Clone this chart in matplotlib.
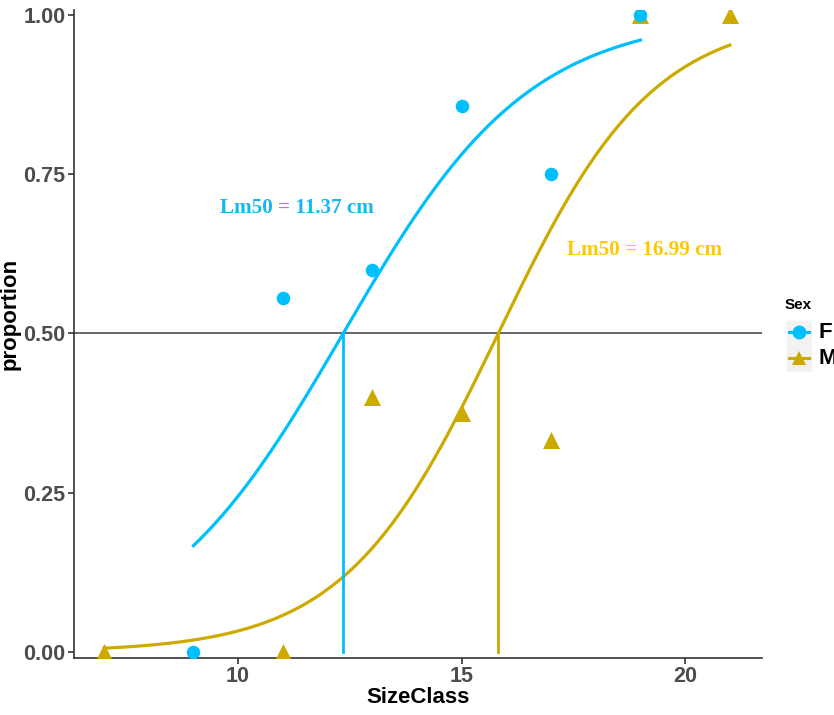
import numpy as np
import matplotlib.pyplot as plt
from matplotlib.lines import Line2D

# ── Data ─────────────────────────────────────────────────────────────────────
f_size = [9, 11, 13, 15, 17, 19]
f_prop = [0.0, 0.556, 0.600, 0.857, 0.750, 1.0]

m_size = [7, 11, 13, 15, 17, 19, 21]
m_prop = [0.0, 0.0, 0.400, 0.375, 0.333, 1.0, 1.0]

# fitted logistic curves (size at 50% and slope)
f_l50, f_slope = 12.35, 0.48
m_l50, m_slope = 15.82, 0.58

f_label = "Lm50 = 11.37 cm"
m_label = "Lm50 = 16.99 cm"

BLUE = "#00BFFF"
GOLD = "#CCAA00"
GOLD_TXT = "#FFC800"
BLUE_TXT = "#1AB5F0"
TICK_GREY = "#4D4D4D"


def logistic(x, l50, b):
    return 1 / (1 + np.exp(-b * (x - l50)))


# ── Plot ─────────────────────────────────────────────────────────────────────
fig = plt.figure(figsize=(8.34, 7.15), dpi=100)
ax = fig.add_axes([74 / 834, 1 - 658 / 715, (762 - 74) / 834, (658 - 10) / 715])

ax.axhline(0.5, color="#666666", linewidth=1.4, zorder=1)

xf = np.linspace(min(f_size), max(f_size), 200)
xm = np.linspace(min(m_size), max(m_size), 200)
ax.plot(xf, logistic(xf, f_l50, f_slope), color=BLUE, linewidth=2.3, zorder=2)
ax.plot(xm, logistic(xm, m_l50, m_slope), color=GOLD, linewidth=2.3, zorder=2)

ax.plot([f_l50, f_l50], [0, 0.5], color=BLUE, linewidth=2.0, zorder=2)
ax.plot([m_l50, m_l50], [0, 0.5], color=GOLD, linewidth=2.0, zorder=2)

ax.scatter(m_size, m_prop, marker="^", s=150, color=GOLD, zorder=3, linewidths=0)
ax.scatter(f_size, f_prop, marker="o", s=95, color=BLUE, zorder=4, linewidths=0)

ax.text(11.32, 0.697, f_label, color=BLUE_TXT, fontsize=15.2, fontweight="bold",
        family="Liberation Serif", ha="center", va="center")
ax.text(19.1, 0.631, m_label, color=GOLD_TXT, fontsize=15.2, fontweight="bold",
        family="Liberation Serif", ha="center", va="center")

ax.set_xlim(6.33, 21.72)
ax.set_ylim(-0.0094, 1.0078)
ax.set_xticks([10, 15, 20])
ax.set_yticks([0, 0.25, 0.5, 0.75, 1.0])
ax.set_yticklabels(["0.00", "0.25", "0.50", "0.75", "1.00"])

for lab in ax.get_xticklabels() + ax.get_yticklabels():
    lab.set_fontweight("bold")
    lab.set_family("Liberation Sans")
ax.tick_params(labelsize=15.5, colors="#333333", labelcolor=TICK_GREY,
               length=4, width=1.2, pad=2)

ax.set_xlabel("SizeClass", fontsize=16, fontweight="bold", family="Liberation Sans", labelpad=0)
ax.set_ylabel("proportion", fontsize=16, fontweight="bold", family="Liberation Sans")
ax.yaxis.set_label_coords(-53 / 688, (658 - 314) / 648)

ax.spines[["top", "right"]].set_visible(False)
for s in ["left", "bottom"]:
    ax.spines[s].set_color("#333333")
    ax.spines[s].set_linewidth(1.2)

# ── Legend (cut at right edge like the original) ─────────────────────────────
fig.text(785 / 834, 1 - 305 / 715, "Sex", fontsize=11, fontweight="bold",
         family="Liberation Sans", va="center", ha="left")
fig.patches.append(plt.Rectangle((787 / 834, 1 - 371 / 715), 24 / 834, 50 / 715,
                                 transform=fig.transFigure, color="#F2F2F2", zorder=0))
for yy, col, mk, lab in [(332, BLUE, "o", "F"), (358, GOLD, "^", "M")]:
    yf = 1 - yy / 715
    fig.lines.append(Line2D([789 / 834, 809 / 834], [yf, yf], transform=fig.transFigure,
                            color=col, linewidth=2.2))
    fig.lines.append(Line2D([799 / 834], [yf], transform=fig.transFigure, color=col,
                            marker=mk, markersize=10, markeredgewidth=0))
    fig.text(819 / 834, yf, lab, fontsize=16, fontweight="bold", family="Liberation Sans",
             va="center", ha="left")

fig.savefig("out.png", dpi=100)
